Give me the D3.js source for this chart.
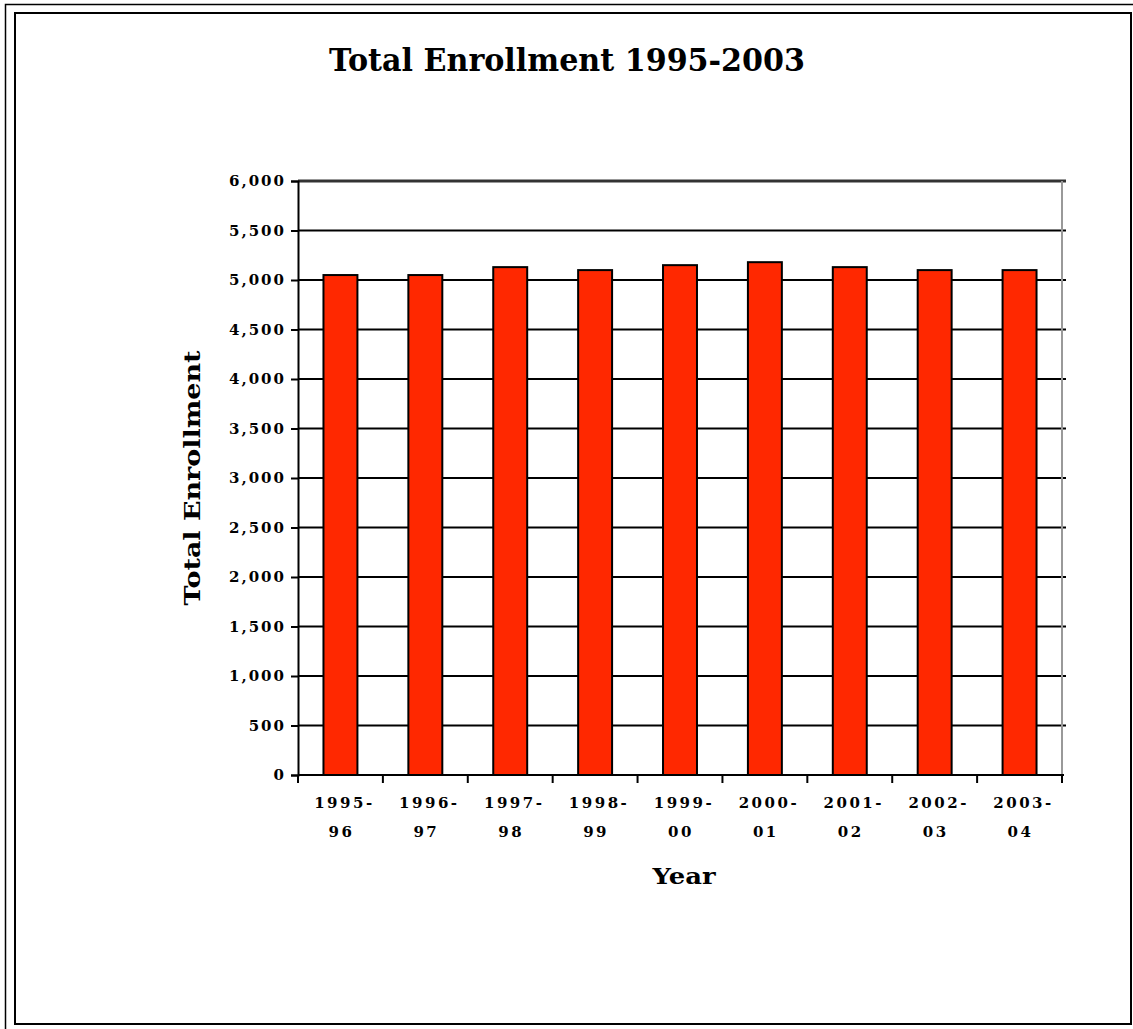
<!DOCTYPE html>
<html>
<head>
<meta charset="utf-8">
<script src="https://cdn.jsdelivr.net/npm/d3@7"></script>
<style>
  html, body { margin: 0; padding: 0; background: #fff; }
  svg { display: block; }
  .serif { font-family: "DejaVu Serif", "Liberation Serif", serif; }
</style>
</head>
<body>
<svg id="chart" width="1133" height="1029"></svg>
<script>
// School years and total enrollment per year
const years = ["1995-96", "1996-97", "1997-98", "1998-99", "1999-00", "2000-01", "2001-02", "2002-03", "2003-04"];
const enrollment = [5050, 5050, 5130, 5100, 5150, 5180, 5130, 5100, 5100];
const yTicks = [0, 500, 1000, 1500, 2000, 2500, 3000, 3500, 4000, 4500, 5000, 5500, 6000];

const chartTitle = "Total Enrollment 1995-2003";
const yTitle = "Total Enrollment";
const xTitle = "Year";

const svg = d3.select("#chart");
const W = 1133, H = 1029;

// Double frame around the whole figure
svg.append("rect").attr("width", W).attr("height", H).attr("fill", "#fff");
svg.append("path")
  .attr("d", `M5.5,${H} V4.5 H${W}`)
  .attr("fill", "none").attr("stroke", "#000").attr("stroke-width", 1.5);
svg.append("rect")
  .attr("x", 15).attr("y", 13).attr("width", 1116).attr("height", 1011)
  .attr("fill", "none").attr("stroke", "#000").attr("stroke-width", 2);

// Plot area
const plotL = 298, plotR = 1062, plotT = 181, plotB = 775;

const x = d3.scaleBand().domain(years).range([plotL, plotR])
  .paddingInner(0.6).paddingOuter(0.3);
const y = d3.scaleLinear().domain([0, 6000]).range([plotB, plotT]);

// Horizontal gridlines
svg.append("g")
  .selectAll("line")
  .data(yTicks.filter(t => t > 0 && t < 6000))
  .join("line")
  .attr("x1", plotL).attr("x2", plotR + 4)
  .attr("y1", d => y(d)).attr("y2", d => y(d))
  .attr("stroke", "#000").attr("stroke-width", 2);

// Top border of plot area and right edge
svg.append("line")
  .attr("x1", plotL).attr("x2", plotR + 4)
  .attr("y1", y(6000)).attr("y2", y(6000))
  .attr("stroke", "#333").attr("stroke-width", 3);
svg.append("line")
  .attr("x1", plotR).attr("x2", plotR)
  .attr("y1", y(6000)).attr("y2", plotB)
  .attr("stroke", "#999").attr("stroke-width", 2);

// Bars
svg.append("g")
  .selectAll("rect")
  .data(years.map((yr, i) => ({ yr, v: enrollment[i] })))
  .join("rect")
  .attr("x", d => x(d.yr))
  .attr("y", d => y(d.v))
  .attr("width", x.bandwidth())
  .attr("height", d => y(0) - y(d.v))
  .attr("fill", "#ff2800")
  .attr("stroke", "#000").attr("stroke-width", 2);

// Y axis
const yAxis = svg.append("g")
  .attr("transform", `translate(${plotL},0)`)
  .call(d3.axisLeft(y).tickValues(yTicks).tickFormat(d3.format(",")).tickSize(7).tickPadding(7));
yAxis.select(".domain").attr("stroke", "#000").attr("stroke-width", 2);
yAxis.selectAll(".tick line").attr("stroke", "#000").attr("stroke-width", 2);
yAxis.selectAll(".tick text")
  .attr("class", "serif")
  .attr("font-size", 15)
  .attr("font-weight", "bold")
  .attr("letter-spacing", "2px")
  .attr("dx", "2")
  .attr("fill", "#000");

// X axis: ticks at category boundaries, two-line labels
const xAxisG = svg.append("g");
xAxisG.append("line")
  .attr("x1", plotL).attr("x2", plotR + 2)
  .attr("y1", plotB).attr("y2", plotB)
  .attr("stroke", "#000").attr("stroke-width", 2);
const step = x.step();
const boundaries = d3.range(years.length + 1).map(i => x(years[0]) - x.paddingOuter() * step + i * step);
xAxisG.selectAll("line.tk")
  .data(boundaries)
  .join("line").attr("class", "tk")
  .attr("x1", d => d).attr("x2", d => d)
  .attr("y1", plotB).attr("y2", plotB + 8)
  .attr("stroke", "#000").attr("stroke-width", 2);

const xl = xAxisG.selectAll("text.xl")
  .data(years)
  .join("text").attr("class", "xl serif")
  .attr("text-anchor", "middle")
  .attr("font-size", 15)
  .attr("font-weight", "bold")
  .attr("letter-spacing", "2.5px")
  .attr("fill", "#000");
xl.append("tspan")
  .attr("x", d => x(d) + x.bandwidth() / 2 + 4)
  .attr("y", 808)
  .text(d => d.split("-")[0] + "-");
xl.append("tspan")
  .attr("x", d => x(d) + x.bandwidth() / 2 + 1)
  .attr("y", 837)
  .text(d => d.split("-")[1]);

// Titles
svg.append("text")
  .attr("class", "serif")
  .attr("x", 567).attr("y", 71)
  .attr("text-anchor", "middle")
  .attr("font-size", 31).attr("font-weight", "bold")
  .attr("textLength", 476).attr("lengthAdjust", "spacingAndGlyphs")
  .text(chartTitle);

svg.append("text")
  .attr("class", "serif")
  .attr("transform", `translate(200,478) rotate(-90)`)
  .attr("text-anchor", "middle")
  .attr("font-size", 22).attr("font-weight", "bold")
  .attr("textLength", 255).attr("lengthAdjust", "spacingAndGlyphs")
  .text(yTitle);

svg.append("text")
  .attr("class", "serif")
  .attr("x", 684).attr("y", 884)
  .attr("text-anchor", "middle")
  .attr("font-size", 22).attr("font-weight", "bold")
  .attr("textLength", 63).attr("lengthAdjust", "spacingAndGlyphs")
  .text(xTitle);
</script>
</body>
</html>
